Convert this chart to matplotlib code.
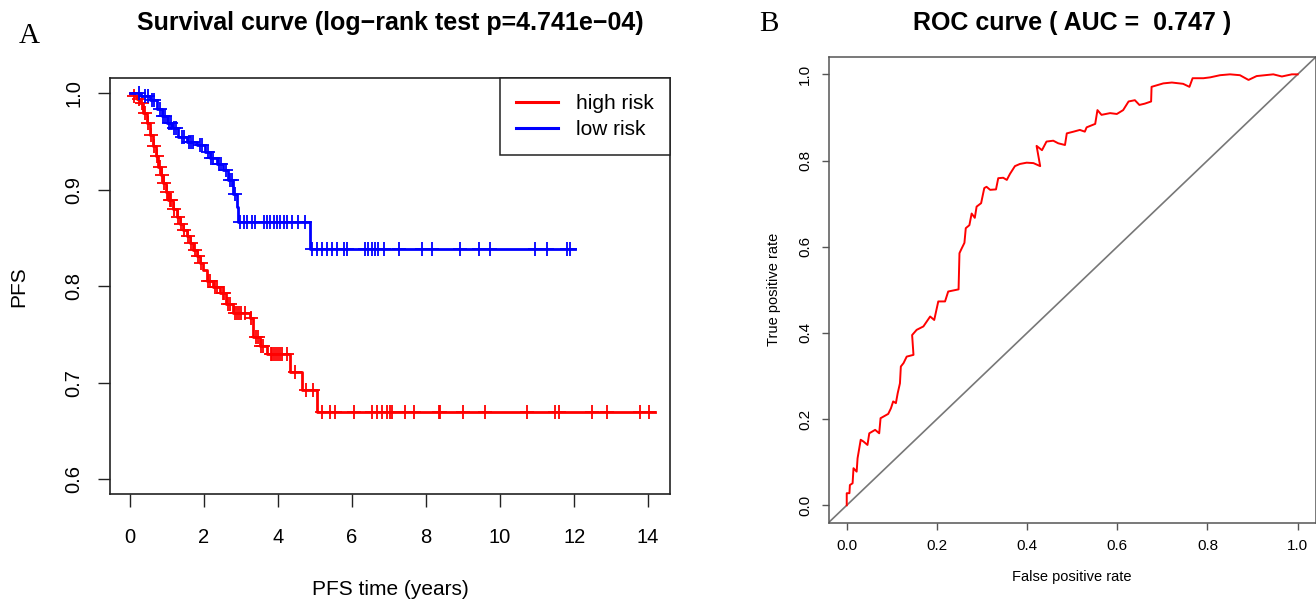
import numpy as np
import matplotlib
matplotlib.use("Agg")
import matplotlib.pyplot as plt

plt.rcParams['font.family'] = ['Liberation Sans', 'DejaVu Sans']

# ---- Panel A : Kaplan-Meier (PFS) ----
# step points (time in years, survival)
high_t = [0, 0.1, 0.2, 0.27, 0.36, 0.45, 0.54, 0.63, 0.7, 0.77, 0.84, 0.9, 0.97, 1.04,
          1.15, 1.26, 1.35, 1.44, 1.53, 1.62, 1.71, 1.8, 1.89, 1.98, 2.08, 2.25, 2.43,
          2.6, 2.78, 3.24, 3.32, 3.5, 3.7, 4.32, 4.65, 5.05]
high_s = [1.0, 0.997, 0.994, 0.99, 0.98, 0.969, 0.957, 0.945, 0.935, 0.924, 0.915, 0.907,
          0.898, 0.889, 0.88, 0.872, 0.865, 0.858, 0.852, 0.845, 0.838, 0.831, 0.824,
          0.817, 0.806, 0.799, 0.793, 0.782, 0.772, 0.767, 0.747, 0.738, 0.730, 0.711,
          0.693, 0.670]
high_end = 14.18
high_cens = [0.12, 0.25, 0.32, 0.4, 0.5, 0.58, 0.66, 0.74, 0.8, 0.87, 0.93, 1.0, 1.07, 1.1,
             1.2, 1.3, 1.38, 1.47, 1.56, 1.66, 1.75, 1.84, 1.93, 2.1, 2.15, 2.3, 2.35, 2.5,
             2.55, 2.65, 2.7, 2.85, 2.9, 2.95, 3.0, 3.1, 3.28, 3.4, 3.45, 3.55, 3.6, 3.8,
             3.85, 3.9, 3.95, 4.0, 4.05, 4.1, 4.25, 4.45, 4.75, 4.95,
             5.18, 5.41, 5.54, 6.04, 6.53, 6.67, 6.81, 6.94, 7.03, 7.08, 7.44, 7.66, 8.34,
             8.38, 9.01, 9.6, 10.72, 11.49, 11.58, 12.48, 12.89, 13.79, 14.01]

low_t = [0, 0.3, 0.54, 0.72, 0.86, 0.99, 1.13, 1.31, 1.53, 1.8, 2.03, 2.16, 2.34, 2.52,
         2.66, 2.79, 2.88, 2.93, 4.86]
low_s = [1.0, 0.997, 0.993, 0.984, 0.976, 0.969, 0.964, 0.955, 0.95, 0.946, 0.939, 0.933,
         0.927, 0.92, 0.91, 0.896, 0.882, 0.867, 0.839]
low_end = 12.03
low_cens = [0.24, 0.4, 0.5, 0.6, 0.65, 0.8, 0.9, 0.95, 1.05, 1.1, 1.2, 1.25, 1.4, 1.45, 1.6,
            1.65, 1.7, 1.9, 1.95, 2.1, 2.2, 2.25, 2.4, 2.45, 2.6, 2.7, 2.75, 2.85,
            2.98, 3.07, 3.16, 3.29, 3.38, 3.61, 3.70, 3.79, 3.88, 3.97, 4.06, 4.15, 4.24,
            4.37, 4.55, 4.73,
            4.91, 5.05, 5.18, 5.32, 5.45, 5.59, 5.77, 5.86, 6.35, 6.44, 6.53, 6.62, 6.71,
            6.85, 7.26, 7.89, 8.16, 8.92, 9.42, 9.73, 10.95, 11.26, 11.8, 11.88]

# ---- Panel B : ROC ----
roc_fpr = [0, 0, 0.006, 0.007, 0.013, 0.015, 0.022, 0.024, 0.031, 0.037, 0.046, 0.05, 0.063,
           0.072, 0.075, 0.092, 0.098, 0.103, 0.109, 0.113, 0.118, 0.12, 0.126, 0.133, 0.148,
           0.145, 0.155, 0.17, 0.185, 0.194, 0.203, 0.218, 0.225, 0.248, 0.25, 0.254, 0.261,
           0.264, 0.272, 0.277, 0.284, 0.288, 0.298, 0.305, 0.31, 0.318, 0.331, 0.336, 0.347,
           0.355, 0.362, 0.373, 0.384, 0.399, 0.414, 0.429, 0.421, 0.433, 0.443, 0.458, 0.469,
           0.484, 0.488, 0.503, 0.517, 0.528, 0.532, 0.551, 0.556, 0.565, 0.584, 0.599, 0.613,
           0.625, 0.639, 0.649, 0.661, 0.675, 0.676, 0.702, 0.721, 0.746, 0.76, 0.767, 0.791,
           0.806, 0.828, 0.85, 0.872, 0.891, 0.909, 0.946, 0.965, 0.987, 1.0]
roc_tpr = [0, 0.028, 0.028, 0.047, 0.051, 0.086, 0.078, 0.109, 0.152, 0.148, 0.14, 0.167, 0.175,
           0.167, 0.202, 0.212, 0.225, 0.241, 0.237, 0.26, 0.283, 0.322, 0.33, 0.345, 0.349,
           0.395, 0.407, 0.415, 0.438, 0.43, 0.473, 0.473, 0.496, 0.501, 0.585, 0.594, 0.609,
           0.643, 0.65, 0.677, 0.667, 0.693, 0.701, 0.736, 0.739, 0.732, 0.733, 0.759, 0.76,
           0.755, 0.769, 0.787, 0.792, 0.795, 0.794, 0.787, 0.834, 0.824, 0.844, 0.846, 0.84,
           0.836, 0.863, 0.867, 0.871, 0.867, 0.877, 0.885, 0.917, 0.906, 0.91, 0.908, 0.917,
           0.937, 0.94, 0.929, 0.932, 0.937, 0.971, 0.979, 0.981, 0.978, 0.971, 0.991, 0.991,
           0.993, 0.998, 1.0, 0.998, 0.987, 0.996, 1.0, 0.995, 1.0, 1.0]


def step_at(times, surv, x):
    idx = np.searchsorted(times, x, side='right') - 1
    return np.asarray(surv)[idx]


W, H = 1316, 601
fig = plt.figure(figsize=(W / 100, H / 100), dpi=100)

# panel A
axA = fig.add_axes([110 / W, 1 - 494.3 / H, 560 / W, 416 / H])
for t, s, end, cens, col, lab in [(high_t, high_s, high_end, high_cens, 'red', 'high risk'),
                                  (low_t, low_s, low_end, low_cens, 'blue', 'low risk')]:
    axA.step(t + [end], s + [s[-1]], where='post', color=col, lw=2.0, label=lab)
    axA.plot(cens, step_at(t, s, cens), ls='none', marker='+', ms=10, mew=1.3, color=col)

axA.set_xlim(-0.54, 14.59)
axA.set_ylim(0.5845, 1.0155)
axA.set_xticks(np.arange(0, 15, 2))
axA.set_yticks([0.6, 0.7, 0.8, 0.9, 1.0])
axA.set_yticklabels(['0.6', '0.7', '0.8', '0.9', '1.0'])
axA.tick_params(length=9, width=1, labelsize=14.5, color='#222')
axA.tick_params(axis='x', pad=15)
axA.tick_params(axis='y', pad=10)
for lbl in axA.get_yticklabels():
    lbl.set_rotation(90)
    lbl.set_va('center')
for sp in axA.spines.values():
    sp.set_linewidth(1.2)
    sp.set_color('#222')
axA.set_xlabel('PFS time (years)', fontsize=15, labelpad=24)
axA.set_ylabel('PFS', fontsize=15, labelpad=26)
leg = axA.legend(loc='upper right', borderaxespad=0, fancybox=False, edgecolor='#222',
                 framealpha=1, fontsize=15, handlelength=2.0, handletextpad=0.9,
                 borderpad=0.75, labelspacing=0.35)
leg.get_frame().set_linewidth(1.1)
for h in leg.get_lines():
    h.set_linewidth(2.2)

fig.text(390 / W, 1 - 23 / H, 'Survival curve (log\u2212rank test p=4.741e\u221204)',
         ha='center', va='center', fontsize=18, fontweight='bold')
fig.text(29 / W, 1 - 36 / H, 'A', ha='center', va='center', fontsize=21,
         family=['Liberation Serif', 'DejaVu Serif'])

# panel B
axB = fig.add_axes([828.7 / W, 1 - 522.5 / H, 487 / W, 465.4 / H])
axB.plot([-0.04, 1.04], [-0.04, 1.04], color='#777', lw=1.2)
axB.plot(roc_fpr, roc_tpr, color='red', lw=1.4)
axB.set_xlim(-0.04, 1.04)
axB.set_ylim(-0.04, 1.04)
axB.set_xticks(np.arange(0, 1.01, 0.2))
axB.set_yticks(np.arange(0, 1.01, 0.2))
axB.set_xticklabels(['0.0', '0.2', '0.4', '0.6', '0.8', '1.0'])
axB.set_yticklabels(['0.0', '0.2', '0.4', '0.6', '0.8', '1.0'])
axB.tick_params(length=5, width=1, labelsize=11, pad=7, color='#555')
for lbl in axB.get_yticklabels():
    lbl.set_rotation(90)
    lbl.set_va('center')
for sp in axB.spines.values():
    sp.set_linewidth(1.1)
    sp.set_color('#555')
axB.set_xlabel('False positive rate', fontsize=10.5, labelpad=12)
axB.set_ylabel('True positive rate', fontsize=10.5, labelpad=12)

fig.text(1072 / W, 1 - 23 / H, 'ROC curve ( AUC =  0.747 )', ha='center', va='center',
         fontsize=18, fontweight='bold')
fig.text(769 / W, 1 - 24 / H, 'B', ha='center', va='center', fontsize=21,
         family=['Liberation Serif', 'DejaVu Serif'])

fig.savefig('out.png', dpi=100)
